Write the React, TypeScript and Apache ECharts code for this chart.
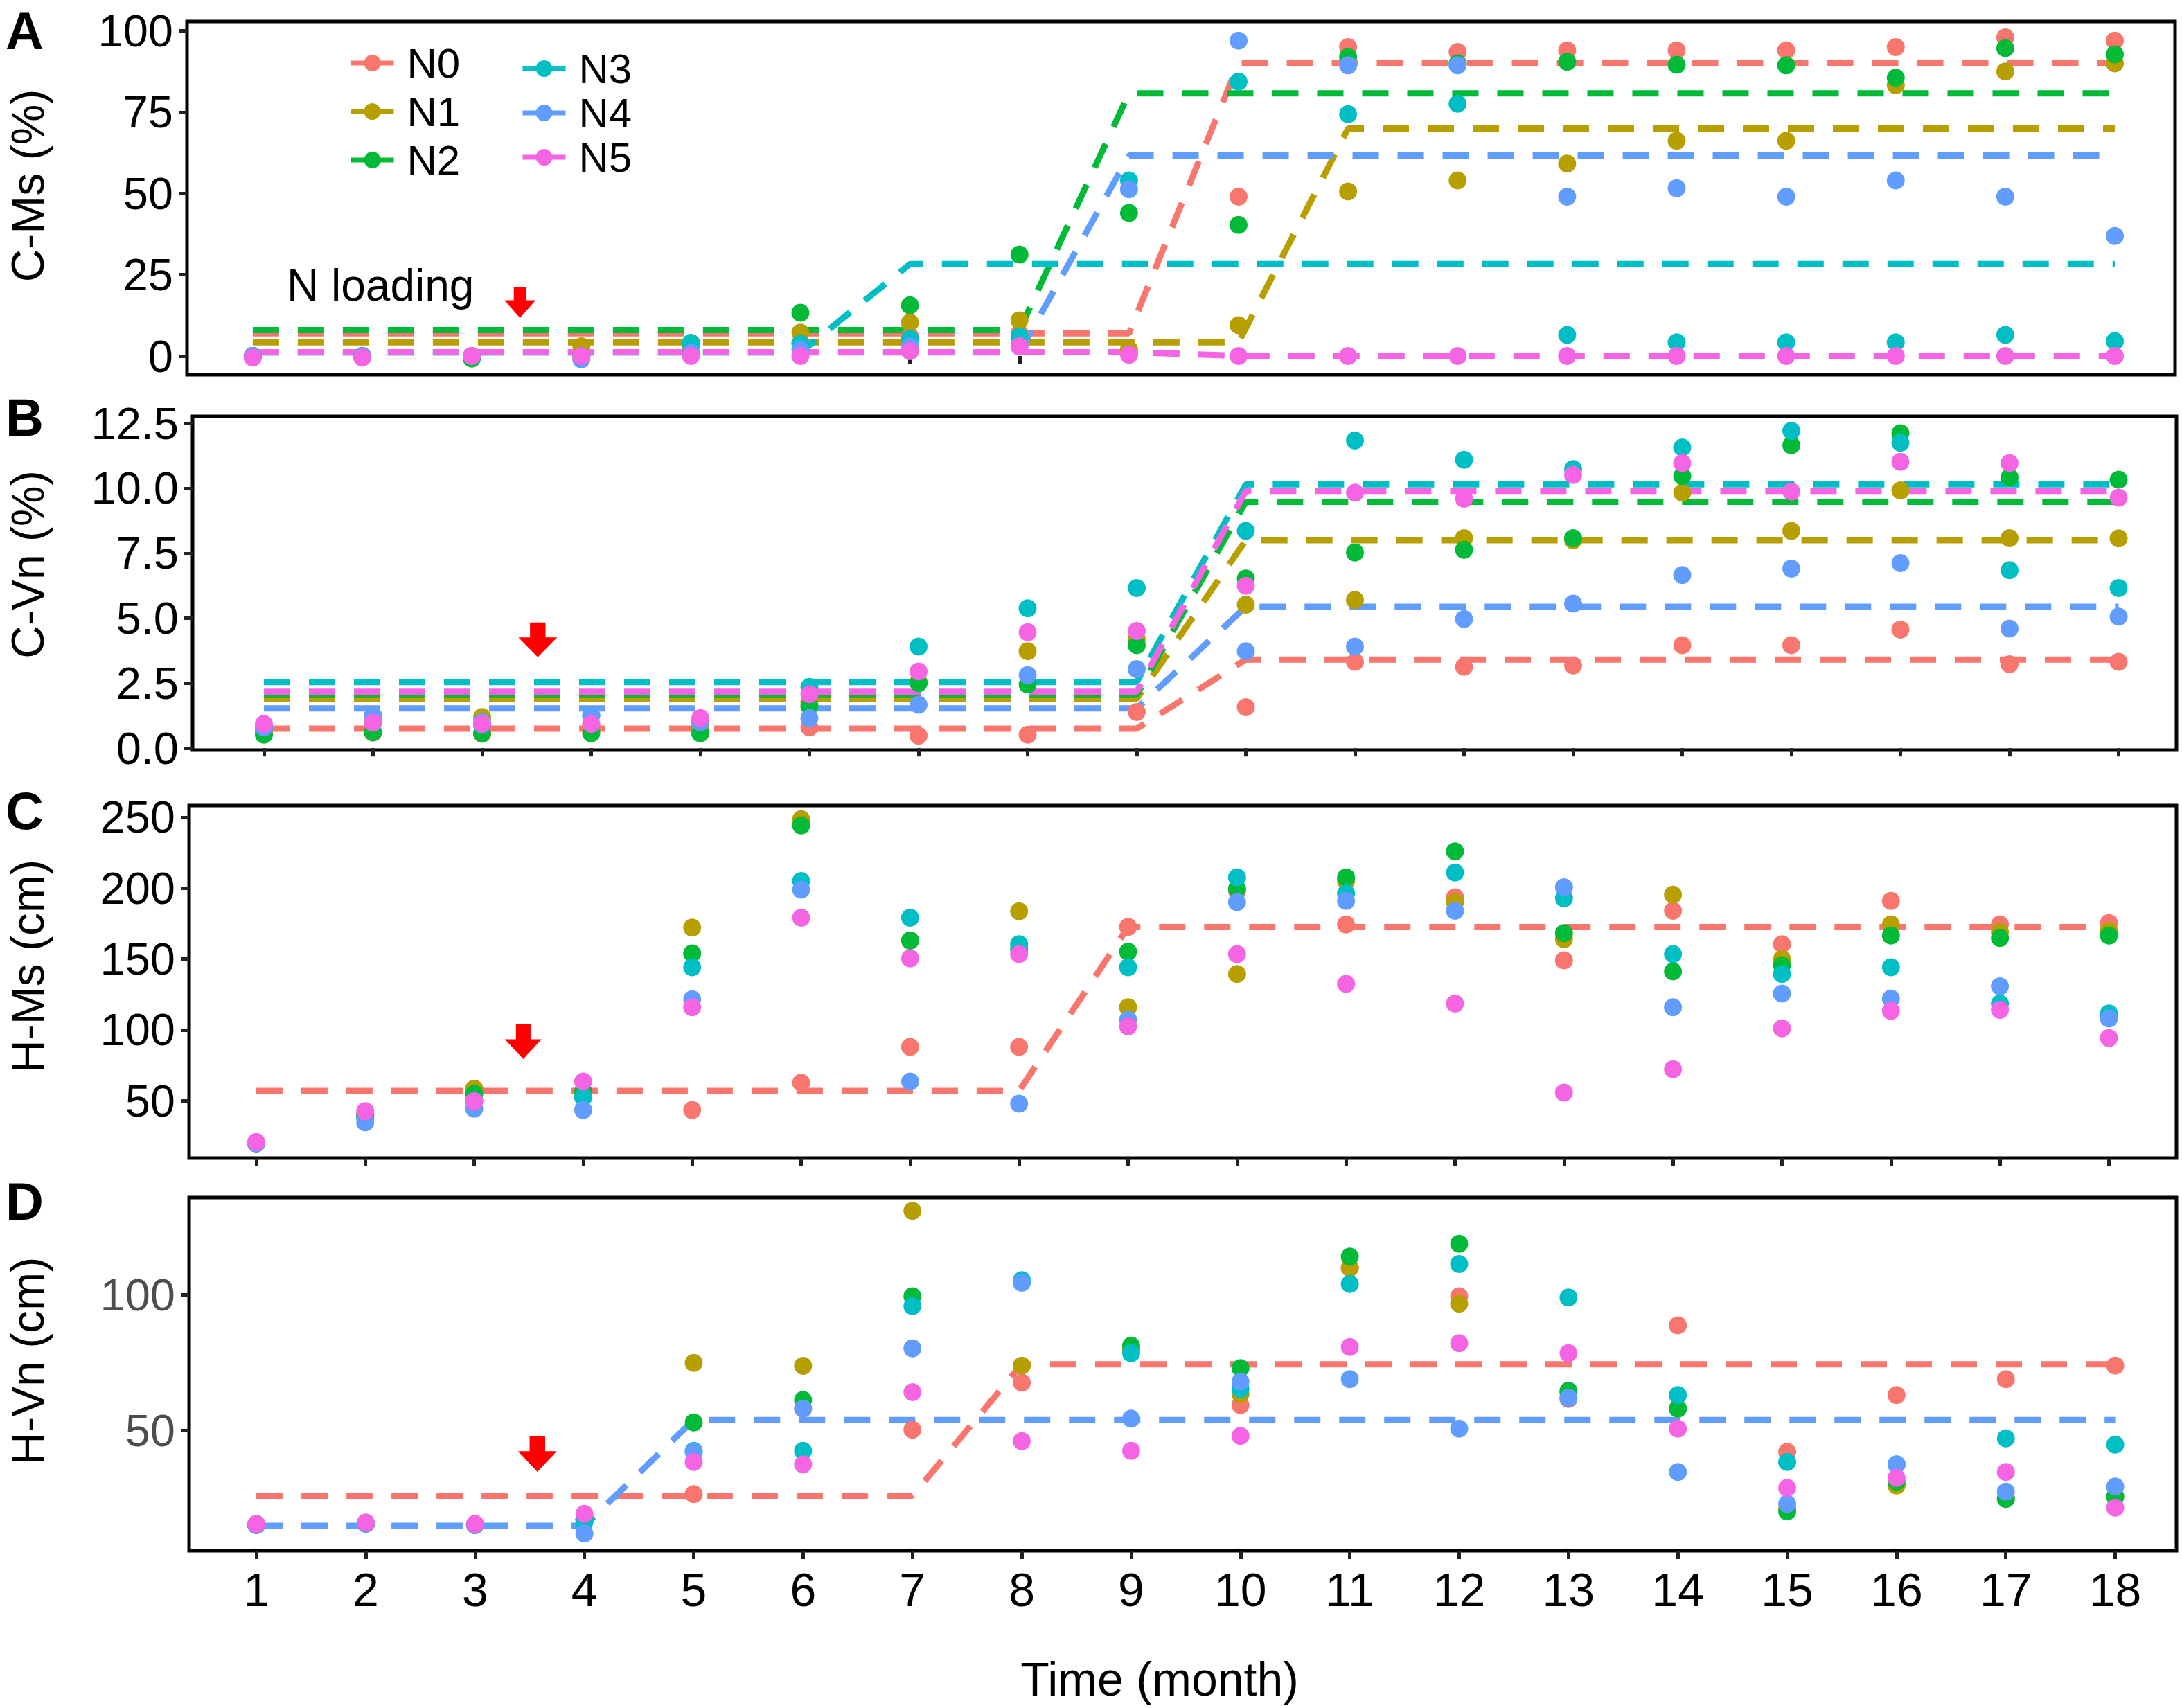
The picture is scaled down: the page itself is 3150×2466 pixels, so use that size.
import React, { useEffect, useRef } from "react";
import * as echarts from "echarts";

// ---------- data ----------
const MONTHS = [1, 2, 3, 4, 5, 6, 7, 8, 9, 10, 11, 12, 13, 14, 15, 16, 17, 18];
const GROUPS = ["N0", "N1", "N2", "N3", "N4", "N5"];
const COLORS = ["#F8766D", "#B79F00", "#00BA38", "#00BFC4", "#619CFF", "#F564E3"];

// Panel A: C-Ms (%)
const A_N0 = [0, 0, 0, 0, 4, 4, 6, 7, 1, 49, 95, 93.5, 94, 94, 94, 95, 98, 97];
const A_N1 = [0, 0, 0, 3, 3, 7.2, 10.3, 11, 2, 9.5, 50.6, 54, 59.2, 66.2, 66.2, 83.3, 87.5, 90];
const A_N2 = [0, 0, -0.8, 0, 4, 13.3, 15.6, 31.2, 44, 40.3, 92, 90, 90.5, 89.6, 89.4, 85.6, 94.7, 92.8];
const A_N3 = [0, 0, 0, 0, 4, 3.8, 5.3, 6, 54, 84.4, 74.4, 77.6, 6.5, 4.2, 4.2, 4.2, 6.5, 4.6];
const A_N4 = [0, 0, 0, -1, 1, 2, 3, 3, 51.3, 97, 89.4, 89.4, 49, 51.6, 49, 54, 49, 36.9];
const A_N5 = [-0.5, -0.5, 0, 0, 0, 0, 1.5, 3, 0.4, 0, 0, 0, 0, 0, 0, 0, 0, 0];

// Panel B: C-Vn (%)
const B_N0 = [0.6, 0.6, 0.55, 0.6, 0.6, 0.8, 0.48, 0.52, 1.39, 1.58, 3.32, 3.13, 3.18, 3.96, 3.96, 4.56, 3.23, 3.32];
const B_N1 = [0.7, 1.26, 1.2, 0.9, 0.8, 1.8, 2.54, 3.73, 4.2, 5.52, 5.7, 8.08, 8.0, 9.83, 8.36, 9.92, 8.08, 8.07];
const B_N2 = [0.52, 0.61, 0.57, 0.57, 0.57, 1.62, 2.5, 2.45, 3.96, 6.53, 7.53, 7.63, 8.08, 10.47, 11.66, 12.12, 10.42, 10.33];
const B_N3 = [0.8, 1.0, 0.9, 1.26, 1.0, 2.36, 3.91, 5.38, 6.16, 8.36, 11.84, 11.1, 10.74, 11.57, 12.21, 11.75, 6.85, 6.16];
const B_N4 = [0.8, 1.26, 1.0, 1.26, 1.0, 1.16, 1.67, 2.81, 3.04, 3.73, 3.91, 4.97, 5.56, 6.66, 6.91, 7.12, 4.6, 5.06];
const B_N5 = [0.93, 0.98, 0.93, 0.93, 1.16, 2.08, 2.95, 4.46, 4.51, 6.25, 9.83, 9.6, 10.51, 10.97, 9.87, 11.02, 10.97, 9.64];

// Panel C: H-Ms (cm)
const C_N0 = [20, 40, 58.4, 55, 43.5, 62.7, 88, 88, 172.7, 198, 174.4, 193.6, 149.1, 184, 160.5, 191, 174.4, 175.3];
const C_N1 = [20, 40, 58.4, 55, 172.2, 248.6, 163.1, 183.7, 116, 139.5, 205, 190, 164, 195.4, 150, 174.4, 169, 170];
const C_N2 = [20, 40, 54.9, 56.6, 154, 244.2, 163, 157, 155.2, 199.7, 207.6, 225.9, 168.3, 141.3, 145.6, 166.6, 164.8, 166.6];
const C_N3 = [20, 38, 50, 52.3, 144.2, 205, 179.1, 160.5, 144.2, 207.6, 196.2, 211, 192.8, 153.5, 139.5, 144.2, 118.6, 111.6];
const C_N4 = [20, 34.8, 44.4, 43.5, 121.6, 198.9, 63.6, 47.9, 107.2, 190.1, 191, 184, 200.6, 116, 125.6, 122.1, 130.8, 108.1];
const C_N5 = [20.9, 42.7, 49.7, 63.6, 116, 179.1, 150.5, 153.5, 102.4, 153.5, 132.5, 118.6, 55.8, 72.3, 101.1, 113.4, 114.2, 94.2];

// Panel D: H-Vn (cm)
const D_N0 = [15, 15.5, 15, 17, 26.4, 58, 50.2, 67.6, 80, 59.3, 110, 99.5, 61.6, 88.8, 42, 63, 68.9, 73.9];
const D_N1 = [15, 15.5, 15, 17, 74.9, 73.8, 131.1, 73.9, 80, 63.4, 110.1, 96.8, 64, 58, 21, 29.6, 25, 25.5];
const D_N2 = [15, 15.5, 15, 17, 52.9, 61.2, 99.5, 105, 81.3, 73, 114.2, 118.9, 64.6, 58, 20, 31, 24.6, 25.5];
const D_N3 = [15, 15.5, 15, 16, 42.4, 42.4, 95.9, 105.5, 78.5, 65.3, 104.1, 111.4, 99.1, 63, 38.3, 37.4, 47, 44.7];
const D_N4 = [15, 15.5, 15, 11.8, 42, 58, 80.3, 104.5, 54.3, 68, 68.9, 50.6, 62, 34.6, 22.8, 37.4, 27.3, 29.2];
const D_N5 = [15.4, 15.9, 15.4, 19.1, 38.3, 37.4, 64.1, 46, 42.4, 47.9, 80.8, 82.2, 78.5, 50.6, 28.7, 32.4, 34.6, 21.4];

// Segmented fits (dashed lines): breakpoints x and fitted y
const A_FIT_X = [[1, 9, 10, 18], [1, 10, 11, 18], [1, 8, 9, 18], [1, 6, 7, 18], [1, 8, 9, 18], [1, 9, 10, 18]];
const A_FIT_Y = [[7, 7, 90, 90], [4.2, 4.2, 70, 70], [8, 8, 80.8, 80.8], [1.1, 1.1, 28.3, 28.3], [1.1, 1.1, 61.7, 61.7], [1.2, 1.2, 0.1, 0.1]];
const B_FIT_X = [[1, 9, 10, 18], [1, 9, 10, 18], [1, 9, 10, 18], [1, 9, 10, 18], [1, 9, 10, 18], [1, 9, 10, 18]];
const B_FIT_Y = [[0.75, 0.75, 3.41, 3.41], [1.9, 1.9, 8.0, 8.0], [2.05, 2.05, 9.48, 9.48], [2.54, 2.54, 10.15, 10.15], [1.53, 1.53, 5.44, 5.44], [2.17, 2.17, 9.9, 9.9]];
const C_FIT_GROUPS = [0];
const C_FIT_X = [[1, 8, 9, 18]];
const C_FIT_Y = [[57, 57, 172.5, 172.5]];
const D_FIT_GROUPS = [0, 4];
const D_FIT_X = [[1, 7, 8, 18], [1, 4, 5, 18]];
const D_FIT_Y = [[25.8, 25.8, 74.4, 74.4], [14.7, 14.7, 53.8, 53.8]];

// y-axis ticks
const A_TICKS = [0, 25, 50, 75, 100];
const B_TICKS = [0, 2.5, 5, 7.5, 10, 12.5];
const C_TICKS = [50, 100, 150, 200, 250];
const D_TICKS = [50, 100];

const PANEL_LETTERS = ["A", "B", "C", "D"];
const Y_TITLES = ["C-Ms (%)", "C-Vn (%)", "H-Ms (cm)", "H-Vn (cm)"];
const X_TITLE = "Time (month)";
const NOTE_TEXT = "N loading";

// N loading arrows (data coordinates per panel)
const ARROW_X = [3.44, 3.51, 3.45, 3.57];
const ARROW_Y = [16.5, 4.17, 91.7, 41.3];

// ---------- layout ----------
const FONT = "Liberation Sans, Arial, Helvetica, sans-serif";
const GRIDS = [
  { left: 270, top: 31, width: 2870, height: 510, xmin: 0.4, xmax: 18.55, ymin: -5.75, ymax: 102.9 },
  { left: 278, top: 601, width: 2864, height: 482, xmin: 0.346, xmax: 18.53, ymin: -0.075, ymax: 12.77 },
  { left: 273, top: 1163, width: 2869, height: 509, xmin: 0.384, xmax: 18.62, ymin: 9.6, ymax: 258.3 },
  { left: 273, top: 1729, width: 2869, height: 510, xmin: 0.385, xmax: 18.56, ymin: 5.47, ymax: 136 },
];
const ARROW_SIZES = [[45, 45], [56, 50], [53, 50], [56, 52]];
const LETTER_Y = [44, 602, 1170, 1734];
const TITLE_Y = [268, 815, 1395, 1965];

const PANEL_DATA = [
  [A_N0, A_N1, A_N2, A_N3, A_N4, A_N5],
  [B_N0, B_N1, B_N2, B_N3, B_N4, B_N5],
  [C_N0, C_N1, C_N2, C_N3, C_N4, C_N5],
  [D_N0, D_N1, D_N2, D_N3, D_N4, D_N5],
];
const PANEL_FITS = [
  { groups: [0, 1, 2, 3, 4, 5], xs: A_FIT_X, ys: A_FIT_Y },
  { groups: [0, 1, 2, 3, 4, 5], xs: B_FIT_X, ys: B_FIT_Y },
  { groups: C_FIT_GROUPS, xs: C_FIT_X, ys: C_FIT_Y },
  { groups: D_FIT_GROUPS, xs: D_FIT_X, ys: D_FIT_Y },
];
const PANEL_TICKS = [A_TICKS, B_TICKS, C_TICKS, D_TICKS];

const ARROW_PATH = "path://M30,0 L70,0 L70,43 L100,43 L50,100 L0,43 L30,43 Z";

function buildOption() {
  const grid = GRIDS.map((g) => ({
    left: g.left,
    top: g.top,
    width: g.width,
    height: g.height,
    show: true,
    borderColor: "#000",
    borderWidth: 5,
    backgroundColor: "transparent",
    containLabel: false,
  }));

  const xAxis = GRIDS.map((g, i) => ({
    type: "value",
    gridIndex: i,
    min: g.xmin,
    max: g.xmax,
    axisLine: { show: false },
    splitLine: { show: false },
    axisTick: { show: true, customValues: MONTHS, length: 12, lineStyle: { width: 5, color: "#222" } },
    axisLabel: {
      show: i === 3,
      customValues: MONTHS,
      fontSize: 68,
      color: "#000",
      margin: 22,
      fontFamily: FONT,
    },
  }));

  const yAxis = GRIDS.map((g, i) => ({
    type: "value",
    gridIndex: i,
    min: g.ymin,
    max: g.ymax,
    axisLine: { show: false },
    splitLine: { show: false },
    axisTick: { show: true, customValues: PANEL_TICKS[i], length: 12, lineStyle: { width: 5, color: "#222" } },
    axisLabel: {
      customValues: PANEL_TICKS[i],
      fontSize: 65,
      color: i === 3 ? "#4D4D4D" : "#000",
      margin: 20,
      fontFamily: FONT,
      formatter: i === 1 ? (v: number) => v.toFixed(1) : (v: number) => String(v),
    },
  }));

  const series: any[] = [];

  // legend entries
  GROUPS.forEach((name, gi) => {
    series.push({
      name,
      type: "line",
      xAxisIndex: 0,
      yAxisIndex: 0,
      data: [],
      symbol: "circle",
      symbolSize: 24,
      itemStyle: { color: COLORS[gi] },
      lineStyle: { color: COLORS[gi], width: 7, type: "solid" },
    });
  });

  PANEL_FITS.forEach((f, pi) => {
    f.groups.forEach((gi, k) => {
      const xs = f.xs[k];
      const ys = f.ys[k];
      const s: any = {
        name: PANEL_LETTERS[pi] + " fit " + GROUPS[gi],
        type: "line",
        xAxisIndex: pi,
        yAxisIndex: pi,
        data: xs.map((x, j) => [x, ys[j]]),
        symbol: "none",
        silent: true,
        z: 2,
        lineStyle: { color: COLORS[gi], width: 9, type: [38, 27] },
      };
      if (k === 0) {
        s.markPoint = {
          silent: true,
          symbol: ARROW_PATH,
          symbolSize: ARROW_SIZES[pi],
          itemStyle: { color: "#FF0000" },
          label: { show: false },
          data: [{ coord: [ARROW_X[pi], ARROW_Y[pi]] }],
          z: 5,
        };
      }
      series.push(s);
    });
  });

  PANEL_DATA.forEach((groups, pi) => {
    groups.forEach((vals, gi) => {
      series.push({
        name: PANEL_LETTERS[pi] + " " + GROUPS[gi],
        type: "scatter",
        xAxisIndex: pi,
        yAxisIndex: pi,
        data: MONTHS.map((m, j) => [m, vals[j]]),
        symbol: "circle",
        symbolSize: 26,
        silent: true,
        z: 3,
        itemStyle: { color: COLORS[gi], opacity: 1, borderWidth: 0 },
      });
    });
  });

  const legendCommon = {
    orient: "vertical",
    itemWidth: 62,
    itemHeight: 30,
    selectedMode: false,
    lineStyle: { width: 7 },
    textStyle: { fontSize: 60, color: "#000", fontFamily: FONT, padding: [0, 0, 0, 14] },
  };

  const graphic: any[] = [];
  PANEL_LETTERS.forEach((L, i) => {
    graphic.push({
      type: "text",
      x: 8,
      y: LETTER_Y[i],
      style: { text: L, fontSize: 76, fontWeight: "bold", fontFamily: FONT, fill: "#000", align: "left", verticalAlign: "middle" },
    });
    graphic.push({
      type: "text",
      x: 40,
      y: TITLE_Y[i],
      rotation: Math.PI / 2,
      style: { text: Y_TITLES[i], fontSize: 66, fontFamily: FONT, fill: "#000", align: "center", verticalAlign: "middle" },
    });
  });
  graphic.push({
    type: "text",
    x: 1674,
    y: 2424,
    style: { text: X_TITLE, fontSize: 68, fontFamily: FONT, fill: "#000", align: "center", verticalAlign: "middle" },
  });
  graphic.push({
    type: "text",
    x: 414,
    y: 412,
    style: { text: NOTE_TEXT, fontSize: 64, fontFamily: FONT, fill: "#000", align: "left", verticalAlign: "middle" },
  });

  return {
    animation: false,
    backgroundColor: "#fff",
    grid,
    xAxis,
    yAxis,
    legend: [
      { ...legendCommon, data: GROUPS.slice(0, 3), left: 498, top: 56, itemGap: 10 },
      { ...legendCommon, data: GROUPS.slice(3, 6), left: 746, top: 64, itemGap: 4 },
    ],
    graphic,
    series,
  };
}

export default function App() {
  const ref = useRef<HTMLDivElement>(null);
  useEffect(() => {
    document.body.style.margin = "0";
    if (!ref.current) return;
    const chart = echarts.init(ref.current, undefined, { renderer: "svg" });
    chart.setOption(buildOption() as any);
    return () => chart.dispose();
  }, []);
  return <div ref={ref} style={{ width: 3150, height: 2466, background: "#fff" }} />;
}
